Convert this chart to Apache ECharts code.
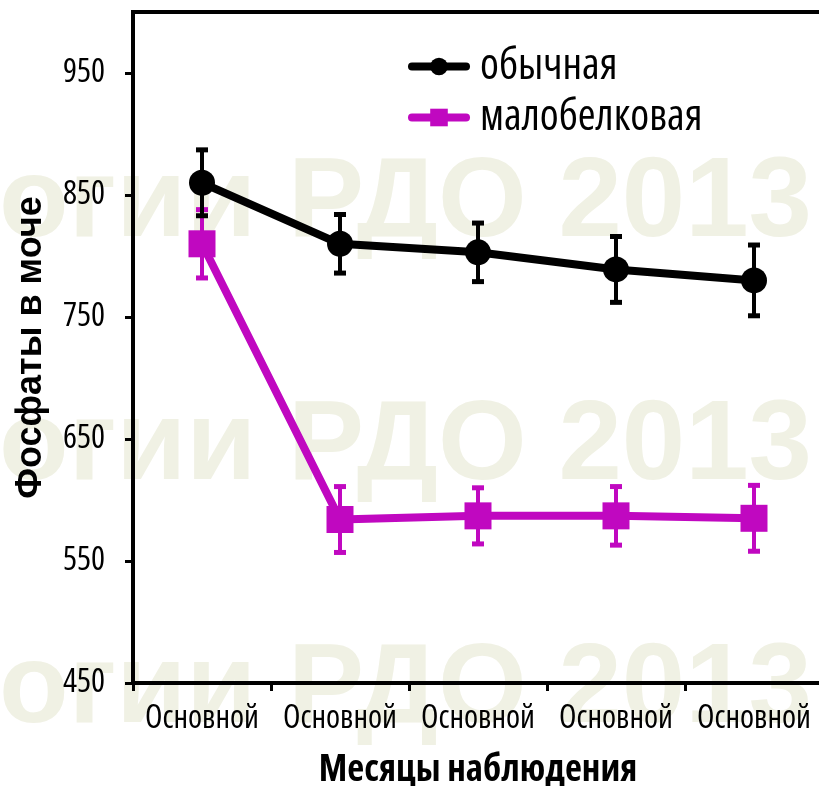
<!DOCTYPE html>
<html>
<head>
<meta charset="utf-8">
<script src="https://cdn.jsdelivr.net/npm/echarts@6/dist/echarts.min.js"></script>
<style>
html,body{margin:0;padding:0;background:#fff;}
#chart{width:819px;height:786px;}
</style>
</head>
<body>
<div id="chart"></div>
<script>
// ---- data ----
const categories = ['Основной', 'Основной', 'Основной', 'Основной', 'Основной'];
const normalName = 'обычная';
const normalMean = [860, 810, 803, 789, 780];
const normalErr  = [27, 24, 24, 27, 29];
const lowName = 'малобелковая';
const lowMean = [810, 584, 587, 587, 585];
const lowErr  = [28, 27, 23, 24, 27];
const yTicks = [450, 550, 650, 750, 850, 950];
const watermarkText = 'огии РДО 2013';

// ---- styling ----
const COND = "'Open Sans', 'Liberation Sans', sans-serif";
const BOLD = "'Liberation Sans', Arial, sans-serif";
const BLACK = '#000000';
const MAGENTA = '#c008c0';

function errData(mean, err) {
  return mean.map((m, i) => [i, m + err[i], m - err[i]]);
}
function errRender(color) {
  return function (params, api) {
    const hi = api.coord([api.value(0), api.value(1)]);
    const lo = api.coord([api.value(0), api.value(2)]);
    const x = hi[0], hw = 6;
    const st = { stroke: color, lineWidth: 4 };
    const cap = { stroke: color, lineWidth: 5 };
    return {
      type: 'group',
      children: [
        { type: 'line', shape: { x1: x, y1: hi[1], x2: x, y2: lo[1] }, style: st },
        { type: 'line', shape: { x1: x - hw, y1: hi[1], x2: x + hw, y2: hi[1] }, style: cap },
        { type: 'line', shape: { x1: x - hw, y1: lo[1], x2: x + hw, y2: lo[1] }, style: cap }
      ]
    };
  };
}

function wm(yTop) {
  return {
    type: 'text', z: -10, silent: true, x: 812, y: yTop,
    style: {
      text: watermarkText, fill: '#f0f1e4',
      font: "bold 114px 'Liberation Sans', Arial, sans-serif",
      align: 'right', verticalAlign: 'top', textAlign: 'right', textVerticalAlign: 'top'
    }
  };
}

const chart = echarts.init(document.getElementById('chart'), null, { renderer: 'canvas' });
chart.setOption({
  backgroundColor: '#ffffff',
  animation: false,
  graphic: [wm(148), wm(391), wm(634)],
  legend: {
    orient: 'vertical',
    left: 403,
    top: 40,
    itemWidth: 54,
    itemHeight: 22,
    itemGap: 8,
    data: [normalName, lowName],
    lineStyle: { width: 8, cap: 'round' },
    textStyle: { fontFamily: COND, fontWeight: 'condensed', fontSize: 43, lineHeight: 40, color: '#000', padding: [0, 0, 0, 9] }
  },
  grid: {
    left: 133, top: 12, width: 690, height: 671,
    outerBoundsMode: 'none', containLabel: false,
    show: true, borderColor: '#000', borderWidth: 4, backgroundColor: 'transparent'
  },
  xAxis: {
    type: 'category',
    data: categories,
    boundaryGap: true,
    name: 'Месяцы наблюдения',
    nameLocation: 'middle',
    nameGap: 69,
    nameTextStyle: { fontFamily: COND, fontWeight: 'bold condensed', fontSize: 37, color: '#000' },
    axisLine: { lineStyle: { color: '#000', width: 4 } },
    axisTick: { show: true, length: 8, lineStyle: { color: '#000', width: 3 } },
    axisLabel: { fontFamily: COND, fontWeight: 'condensed', fontSize: 32, color: '#000', margin: 20, interval: 0 },
    splitLine: { show: false }
  },
  yAxis: {
    type: 'value',
    min: 450,
    max: 1000,
    name: 'Фосфаты в моче',
    nameLocation: 'middle',
    nameGap: 84,
    nameRotate: 90,
    nameTextStyle: { fontFamily: BOLD, fontWeight: 'bold', fontSize: 36, color: '#000' },
    axisLine: { show: true, lineStyle: { color: '#000', width: 4 } },
    axisTick: { show: true, length: 8, customValues: yTicks, lineStyle: { color: '#000', width: 3 } },
    axisLabel: { fontFamily: COND, fontWeight: 'condensed', fontSize: 33, color: '#000', margin: 28, customValues: yTicks },
    splitLine: { show: false }
  },
  series: [
    {
      type: 'custom', name: 'errLow', z: 2, silent: true,
      renderItem: errRender(MAGENTA),
      data: errData(lowMean, lowErr)
    },
    {
      type: 'line', name: lowName, z: 3,
      data: lowMean,
      symbol: 'rect', symbolSize: 27,
      itemStyle: { color: MAGENTA },
      lineStyle: { color: MAGENTA, width: 8 }
    },
    {
      type: 'custom', name: 'errNormal', z: 4, silent: true,
      renderItem: errRender(BLACK),
      data: errData(normalMean, normalErr)
    },
    {
      type: 'line', name: normalName, z: 5,
      data: normalMean,
      symbol: 'circle', symbolSize: 26,
      itemStyle: { color: BLACK },
      lineStyle: { color: BLACK, width: 8 }
    }
  ]
});
</script>
</body>
</html>
